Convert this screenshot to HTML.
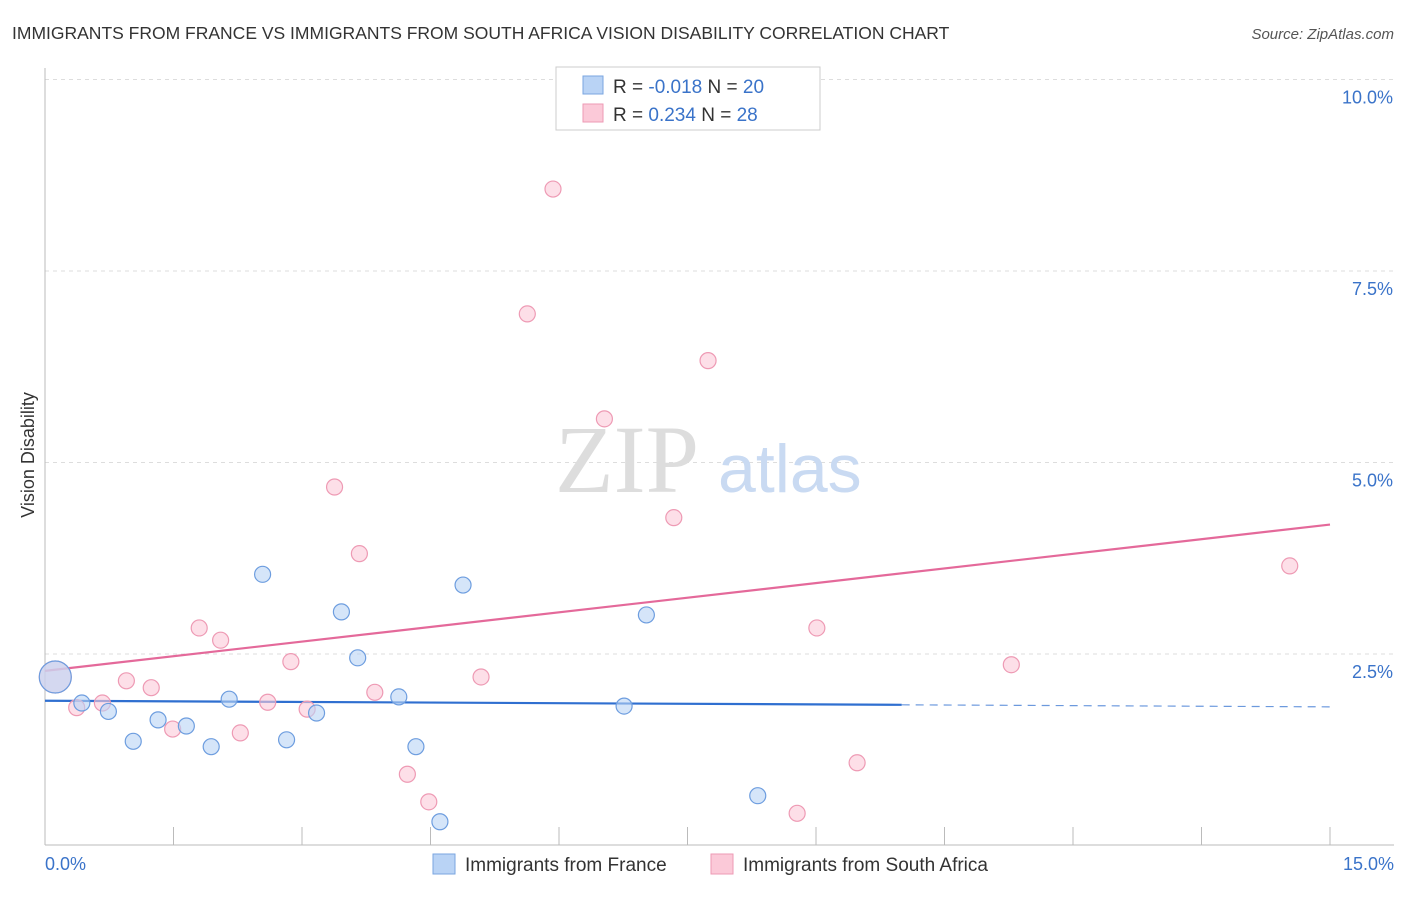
<!DOCTYPE html>
<html><head><meta charset="utf-8"><style>
body{margin:0;background:#fff;font-family:"Liberation Sans",sans-serif;}
</style></head><body>
<svg width="1406" height="892" xmlns="http://www.w3.org/2000/svg">
<text x="12" y="39" font-size="17.5" fill="#333">IMMIGRANTS FROM FRANCE VS IMMIGRANTS FROM SOUTH AFRICA VISION DISABILITY CORRELATION CHART</text>
<text x="1394" y="39" font-size="15" fill="#555" font-style="italic" text-anchor="end">Source: ZipAtlas.com</text>
<g id="grid"></g>
<g id="axes"></g>
<text x="555" y="492" font-size="96" fill="#ddd" font-family="Liberation Serif,serif">ZIP</text>
<text x="718" y="492" font-size="68" fill="#c9daf2">atlas</text>
<text x="34" y="455" font-size="18" fill="#333" text-anchor="middle" transform="rotate(-90 34 455)">Vision Disability</text>
<g id="lines"></g>
<g id="pts"></g>
<g>
<rect x="556" y="67" width="264" height="63" fill="#fff" stroke="#ccc"/>
<rect x="583" y="76" width="20" height="18" fill="#b9d3f5" stroke="#7aa6e0"/>
<rect x="583" y="104" width="20" height="18" fill="#fbc9d8" stroke="#ee9ab4"/>
<text x="613" y="93" font-size="19" fill="#333">R = <tspan fill="#3a73c9">-0.018</tspan>   N = <tspan fill="#3a73c9">20</tspan></text>
<text x="613" y="121" font-size="19" fill="#333">R =  <tspan fill="#3a73c9">0.234</tspan>   N =  <tspan fill="#3a73c9">28</tspan></text>
</g>
<g>
<rect x="433" y="854" width="22" height="20" fill="#b9d3f5" stroke="#7aa6e0"/>
<text x="465" y="871" font-size="19" fill="#333">Immigrants from France</text>
<rect x="711" y="854" width="22" height="20" fill="#fbc9d8" stroke="#ee9ab4"/>
<text x="743" y="871" font-size="19" fill="#333">Immigrants from South Africa</text>
</g>
</svg>
<script>
const yTicks=[2.5,5.0,7.5,10.0];
const yTickLabels=["2.5%","5.0%","7.5%","10.0%"];
const xTickCount=10;
const franceX=[0.12,0.43,0.74,1.03,1.32,1.65,1.94,2.15,2.54,2.82,3.17,3.46,3.65,4.13,4.33,4.61,4.88,6.76,7.02,8.32];
const franceY=[2.2,1.86,1.75,1.36,1.64,1.56,1.29,1.91,3.54,1.38,1.73,3.05,2.45,1.94,1.29,0.31,3.40,1.82,3.01,0.65];
const saX=[0.12,0.37,0.67,0.95,1.24,1.49,1.80,2.05,2.28,2.60,2.87,3.06,3.38,3.67,3.85,4.23,4.48,5.09,5.63,5.93,6.53,7.34,7.74,8.78,9.01,9.48,11.28,14.53];
const saY=[2.2,1.80,1.86,2.15,2.06,1.52,2.84,2.68,1.47,1.87,2.40,1.78,4.68,3.81,2.00,0.93,0.57,2.20,6.94,8.57,5.57,4.28,6.33,0.42,2.84,1.08,2.36,3.65];
const franceTrend=[1.89,1.81];
const saTrend=[2.28,4.19];
const NS="http://www.w3.org/2000/svg";
const X=v=>45+v*(1285/15), Y=v=>845.5-v*76.6;
function mk(p,t,a){const e=document.createElementNS(NS,t);for(const k in a)e.setAttribute(k,a[k]);document.getElementById(p).appendChild(e);return e;}
yTicks.forEach((t,i)=>{
 const l=mk('grid','line',{x1:45,x2:1394,y1:Y(t),y2:Y(t),stroke:'#ddd','stroke-dasharray':'4,4'});
 
 
 const tx=mk('grid','text',{x:1393,y:Y(t)+24,'font-size':18,fill:'#3a73c9','text-anchor':'end'});
 tx.textContent=yTickLabels[i];
 
 
});
mk('axes','line',{x1:45,x2:45,y1:68,y2:845,stroke:'#bbb'});
mk('axes','line',{x1:45,x2:1394,y1:845,y2:845,stroke:'#bbb'});
for(let i=1;i<=xTickCount;i++){const x=X(i*1.5);const t=mk('axes','line',{x1:x,x2:x,y1:827,y2:845,stroke:'#bbb'});}
let a=mk('axes','text',{x:45,y:870,'font-size':18,fill:'#3a73c9'});a.textContent='0.0%';

a=mk('axes','text',{x:1394,y:870,'font-size':18,fill:'#3a73c9','text-anchor':'end'});a.textContent='15.0%';

const fAt=v=>franceTrend[0]+(franceTrend[1]-franceTrend[0])*v/15;
let ln=mk('lines','line',{x1:X(0),y1:Y(fAt(0)),x2:X(10),y2:Y(fAt(10)),stroke:'#2f6fd0','stroke-width':2.2});

ln=mk('lines','line',{x1:X(10),y1:Y(fAt(10)),x2:X(15),y2:Y(fAt(15)),stroke:'#2f6fd0','stroke-width':1.2,'stroke-dasharray':'8,6',opacity:0.7});

ln=mk('lines','line',{x1:X(0),y1:Y(saTrend[0]),x2:X(15),y2:Y(saTrend[1]),stroke:'#e4699a','stroke-width':2.2});

saX.forEach((x,i)=>{const c=mk('pts','circle',{cx:X(x),cy:Y(saY[i]),r:i==0?16:8,fill:'#fbc9d8','fill-opacity':0.6,stroke:'#ee9ab4','stroke-width':1.2});
 
 });
franceX.forEach((x,i)=>{const c=mk('pts','circle',{cx:X(x),cy:Y(franceY[i]),r:i==0?16:8,fill:'#b9d3f5','fill-opacity':0.6,stroke:'#6d9ddf','stroke-width':1.2});
 
 });
</script>
</body></html>
